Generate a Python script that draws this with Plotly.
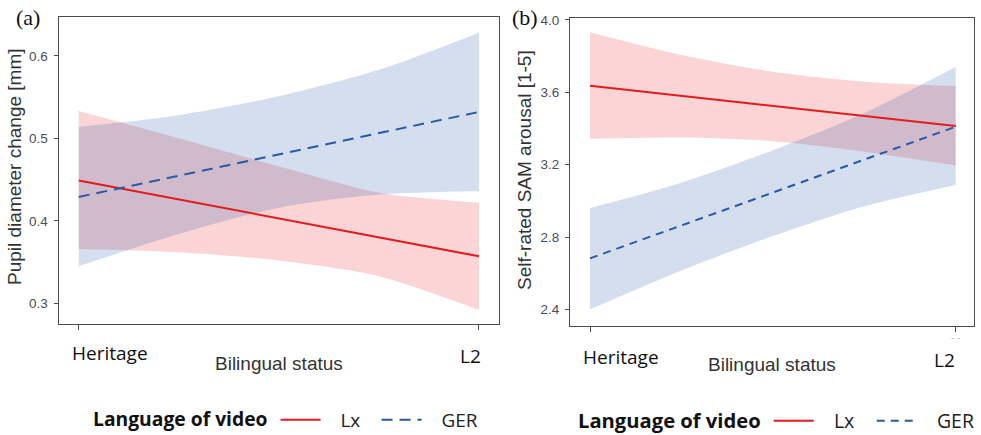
import plotly.graph_objects as go

# ---------------- data ----------------
x_pos = [0, 0.25, 0.5, 0.75, 1.0]
x_cats = ["Heritage", "L2"]
x_cat_pos = [0, 1]

# Panel (a): pupil diameter change [mm]
a_lx_line = [0.449, 0.357]
a_ger_line = [0.429, 0.532]
a_lx_upper = [0.533, 0.500, 0.466, 0.434, 0.422]
a_lx_lower = [0.366, 0.362, 0.352, 0.333, 0.292]
a_ger_upper = [0.514, 0.528, 0.551, 0.583, 0.628]
a_ger_lower = [0.345, 0.384, 0.416, 0.432, 0.436]
a_yticks = [0.3, 0.4, 0.5, 0.6]

# Panel (b): self-rated SAM arousal [1-5]
b_lx_line = [3.636, 3.414]
b_ger_line = [2.682, 3.410]
b_lx_upper = [3.932, 3.806, 3.714, 3.659, 3.635]
b_lx_lower = [3.344, 3.350, 3.330, 3.272, 3.196]
b_ger_upper = [2.960, 3.100, 3.280, 3.486, 3.740]
b_ger_lower = [2.400, 2.615, 2.805, 2.970, 3.088]
b_yticks = [2.4, 2.8, 3.2, 3.6, 4.0]

series_names = ["Lx", "GER"]

# ---------------- style ----------------
RED = "#E41A1C"
BLUE = "#2B59A6"
RED_FILL = "rgba(235,40,50,0.2)"
BLUE_FILL = "rgba(40,90,170,0.2)"
W, H = 981, 435
SANS = "Liberation Sans, Arial"
UI = "Open Sans"
PAD = "&nbsp;&nbsp;&nbsp;"

fig = go.Figure()


def add_panel(xa, ya, lx_line, ger_line, lx_up, lx_lo, ger_up, ger_lo, legend, dash):
    for lo, up, col in [(lx_lo, lx_up, RED_FILL), (ger_lo, ger_up, BLUE_FILL)]:
        fig.add_trace(go.Scatter(x=x_pos, y=lo, xaxis=xa, yaxis=ya, mode="lines",
                                 line=dict(width=0, shape="spline", smoothing=0.8),
                                 showlegend=False, hoverinfo="skip"))
        fig.add_trace(go.Scatter(x=x_pos, y=up, xaxis=xa, yaxis=ya, mode="lines",
                                 line=dict(width=0, shape="spline", smoothing=0.8),
                                 fill="tonexty", fillcolor=col,
                                 showlegend=False, hoverinfo="skip"))
    fig.add_trace(go.Scatter(x=x_cat_pos, y=lx_line, xaxis=xa, yaxis=ya, mode="lines",
                             name=PAD + series_names[0], legend=legend,
                             line=dict(color=RED, width=2)))
    fig.add_trace(go.Scatter(x=x_cat_pos, y=ger_line, xaxis=xa, yaxis=ya, mode="lines",
                             name=PAD + series_names[1], legend=legend,
                             line=dict(color=BLUE, width=2, dash=dash)))


add_panel("x", "y", a_lx_line, a_ger_line, a_lx_upper, a_lx_lower,
          a_ger_upper, a_ger_lower, "legend", "11px,7px")
add_panel("x2", "y2", b_lx_line, b_ger_line, b_lx_upper, b_lx_lower,
          b_ger_upper, b_ger_lower, "legend2", "8px,6px")

axis_common = dict(showline=True, mirror=True, linecolor="#4D4D4D", linewidth=1.2,
                   showgrid=False, zeroline=False, ticks="outside",
                   tickcolor="#4D4D4D", tickwidth=1, automargin=False)


def legend_cfg(xpx, ypx, ew, tsize, isize):
    return dict(orientation="h", x=xpx / W, xanchor="left", y=1 - ypx / H, yanchor="middle",
                traceorder="normal", itemwidth=40, entrywidth=ew,
                title=dict(text="<b>Language of video</b>",
                           font=dict(family=UI, size=tsize, color="#111")),
                font=dict(family=UI, size=isize, color="#222"),
                bgcolor="rgba(0,0,0,0)")


fig.update_layout(
    width=W, height=H,
    margin=dict(l=0, r=0, t=0, b=0, autoexpand=False),
    paper_bgcolor="white", plot_bgcolor="white",
    xaxis=dict(domain=[58.7 / W, 499 / W], range=[-0.05, 1.05],
               tickvals=x_cat_pos, showticklabels=False, ticklen=5,
               anchor="y", **axis_common),
    yaxis=dict(domain=[1 - 324 / H, 1 - 17 / H], range=[0.275, 0.647],
               tickvals=a_yticks, ticktext=[f"{v:.1f}" for v in a_yticks],
               ticklen=4, anchor="x", ticklabelstandoff=3,
               tickfont=dict(family=SANS, size=13.5, color="#4D4D5A"),
               **axis_common),
    xaxis2=dict(domain=[570 / W, 974 / W], range=[-0.0547, 1.05],
                tickvals=x_cat_pos, showticklabels=False, ticklen=5,
                anchor="y2", **axis_common),
    yaxis2=dict(domain=[1 - 326 / H, 1 - 18 / H], range=[2.308, 4.011],
                tickvals=b_yticks, ticktext=[f"{v:.1f}" for v in b_yticks],
                ticklen=4, anchor="x2", ticklabelstandoff=3,
                tickfont=dict(family=SANS, size=13.5, color="#4D4D5A"),
                **axis_common),
    legend=legend_cfg(91, 420, 46, 19.3, 19),
    legend2=legend_cfg(576, 421, 48, 20.2, 19.5),
)

ann = []
# x category labels (Heritage starts just left of its tick, L2 ends just right of its tick)
for xr, ypx in [("x", 353), ("x2", 357)]:
    ann.append(dict(x=x_cat_pos[0], xref=xr, y=1 - ypx / H, yref="paper",
                    text=x_cats[0], showarrow=False, xanchor="left", yanchor="middle",
                    xshift=-9, font=dict(family=UI, size=19, color="#111")))
    ann.append(dict(x=x_cat_pos[1], xref=xr, y=1 - (ypx + 3) / H, yref="paper",
                    text=x_cats[1], showarrow=False, xanchor="right", yanchor="middle",
                    xshift=4 if xr == "x" else 1, font=dict(family=UI, size=19, color="#111")))
# axis titles
for xpx, ypx in [(279, 363), (772, 364)]:
    ann.append(dict(x=xpx / W, y=1 - ypx / H, xref="paper", yref="paper", text="Bilingual status",
                    showarrow=False, xanchor="center", yanchor="middle",
                    font=dict(family=SANS, size=19, color="#333")))
ann.append(dict(x=15 / W, y=1 - 167 / H, xref="paper", yref="paper",
                text="Pupil diameter change [mm]", textangle=-90, showarrow=False,
                xanchor="center", yanchor="middle",
                font=dict(family=SANS, size=19, color="#333")))
ann.append(dict(x=525 / W, y=1 - 170 / H, xref="paper", yref="paper",
                text="Self-rated SAM arousal [1-5]", textangle=-90, showarrow=False,
                xanchor="center", yanchor="middle",
                font=dict(family=SANS, size=19, color="#333")))
# panel letters
for txt, xpx in [("(a)", 28), ("(b)", 525)]:
    ann.append(dict(x=xpx / W, y=1 - 17 / H, xref="paper", yref="paper", text=txt,
                    showarrow=False, xanchor="center", yanchor="middle",
                    font=dict(family="Liberation Serif, Times New Roman", size=22, color="#111")))
# small stray dashes under the L2 tick of panel (b)
ann.append(dict(x=955 / W, y=1 - 337 / H, xref="paper", yref="paper", text="- -",
                showarrow=False, xanchor="center", yanchor="middle",
                font=dict(family=SANS, size=10, color="#BBBBBB")))

fig.update_layout(annotations=ann)
fig.write_html("out.html", config={"displayModeBar": False},
               post_script="document.body.style.margin='0px';")
